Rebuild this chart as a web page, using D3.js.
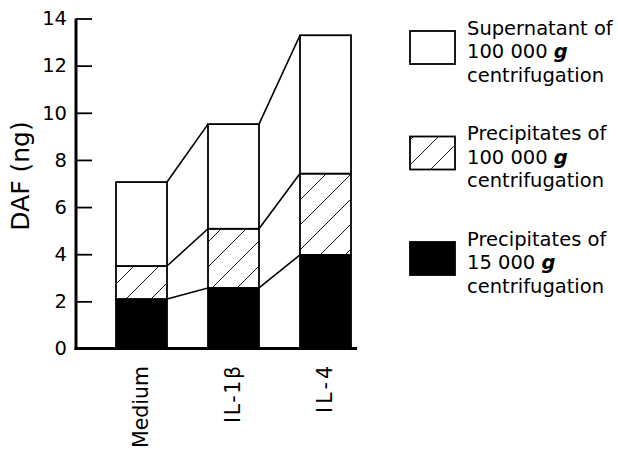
<!DOCTYPE html>
<html>
<head>
<meta charset="utf-8">
<script src="https://cdn.jsdelivr.net/npm/d3@7"></script>
<style>
  body { margin: 0; background: #fff; }
  svg { font-family: "DejaVu Sans", Verdana, sans-serif; }
</style>
</head>
<body>
<div id="chart"></div>
<script>
// data
const groups = ['Medium', 'IL-1\u03b2', 'IL-4']
const precip15000 = [2.1, 2.57, 3.97]   // black
const precip100000 = [1.4, 2.51, 3.45]  // hatched
const supernatant = [3.56, 4.44, 5.87]  // white
const yTicks = [0, 2, 4, 6, 8, 10, 12, 14]

const legendItems = [
  { fill: 'white', lines: ['Supernatant of', '100 000 ', 'centrifugation'] },
  { fill: 'hatch', lines: ['Precipitates of', '100 000 ', 'centrifugation'] },
  { fill: 'black', lines: ['Precipitates of', '15 000 ', 'centrifugation'] }
]

// the IL labels are spaced wider in the original
const xLabelLength = { 'IL-1\u03b2': 57, 'IL-4': 47 }

const width = 618
const height = 450

const svg = d3.select('#chart').append('svg')
  .attr('width', width)
  .attr('height', height)

// hatch pattern
const hs = 25
const defs = svg.append('defs')
const pat = defs.append('pattern')
  .attr('id', 'hatch')
  .attr('patternUnits', 'userSpaceOnUse')
  .attr('width', hs)
  .attr('height', hs)
pat.append('rect').attr('width', hs).attr('height', hs).attr('fill', 'white')
pat.append('path')
  .attr('d', `M0,${hs} L${hs},0 M${-hs / 2},${hs / 2} L${hs / 2},${-hs / 2} M${hs / 2},${hs * 1.5} L${hs * 1.5},${hs / 2}`)
  .attr('stroke', 'black')
  .attr('stroke-width', 0.9)

const x0 = 76
const y = d3.scaleLinear().domain([0, 14]).range([348.5, 18.5])
// step 92, bar width 51
const x = d3.scaleBand().domain(groups).range([116, 351]).paddingInner(41 / 92).paddingOuter(0)

// stacked layers
const stackData = groups.map((g, i) => ({
  group: g,
  black: precip15000[i],
  hatch: precip100000[i],
  white: supernatant[i]
}))
const stack = d3.stack().keys(['black', 'hatch', 'white'])
const series = stack(stackData)
const fills = { black: 'black', hatch: 'url(#hatch)', white: 'white' }

const g = svg.append('g')

series.forEach(s => {
  g.selectAll(null)
    .data(s)
    .enter()
    .append('rect')
    .attr('x', d => x(d.data.group))
    .attr('y', d => y(d[1]))
    .attr('width', x.bandwidth())
    .attr('height', d => y(d[0]) - y(d[1]))
    .attr('fill', fills[s.key])
    .attr('stroke', 'black')
    .attr('stroke-width', 1.8)
})

// connecting lines between bars at each cumulative level
series.forEach(s => {
  for (let i = 0; i < s.length - 1; i++) {
    g.append('line')
      .attr('x1', x(groups[i]) + x.bandwidth())
      .attr('y1', y(s[i][1]))
      .attr('x2', x(groups[i + 1]))
      .attr('y2', y(s[i + 1][1]))
      .attr('stroke', 'black')
      .attr('stroke-width', 1.6)
  }
})

// y axis
const yAxis = d3.axisLeft(y).tickValues(yTicks).tickSize(-16).tickPadding(9)
const ya = svg.append('g').attr('transform', `translate(${x0},0)`).call(yAxis)
ya.select('.domain').remove()
ya.selectAll('.tick line').attr('stroke-width', 1.8)
ya.selectAll('.tick text')
  .attr('font-family', '"DejaVu Sans", sans-serif')
  .attr('font-size', 19.5).attr('fill', 'black')
svg.append('line')
  .attr('x1', x0).attr('x2', x0)
  .attr('y1', y(14)).attr('y2', y(0) + 1.5)
  .attr('stroke', 'black').attr('stroke-width', 3)

// x axis baseline
svg.append('line')
  .attr('x1', x0 - 1.5).attr('x2', 357)
  .attr('y1', y(0)).attr('y2', y(0))
  .attr('stroke', 'black').attr('stroke-width', 3)

// x labels, rotated
svg.selectAll('.xlab')
  .data(groups)
  .enter()
  .append('text')
  .attr('class', 'xlab')
  .attr('transform', d => `translate(${x(d) + x.bandwidth() / 2 + 6},366) rotate(-90)`)
  .attr('text-anchor', 'end')
  .attr('font-size', 20.5)
  .each(function (d) {
    if (xLabelLength[d]) {
      d3.select(this).attr('textLength', xLabelLength[d]).attr('lengthAdjust', 'spacing')
    }
  })
  .text(d => d)

// y label
svg.append('text')
  .attr('transform', 'translate(29,176) rotate(-90)')
  .attr('text-anchor', 'middle')
  .attr('font-size', 25)
  .text('DAF (ng)')

// legend
const leg = svg.append('g')
legendItems.forEach((item, i) => {
  const top = 31 + i * 105.5
  leg.append('rect')
    .attr('x', 410).attr('y', top)
    .attr('width', 45).attr('height', 33)
    .attr('fill', item.fill === 'hatch' ? 'url(#hatch)' : item.fill)
    .attr('stroke', 'black').attr('stroke-width', 1.8)
  item.lines.forEach((ln, j) => {
    const t = leg.append('text')
      .attr('x', 467)
      .attr('y', top + 3.5 + j * 23.7)
      .attr('font-size', 19.5)
      .text(ln)
    if (j === 1) {
      t.append('tspan')
        .attr('font-weight', 'bold')
        .attr('font-style', 'italic')
        .text('g')
    }
  })
})
</script>
</body>
</html>
